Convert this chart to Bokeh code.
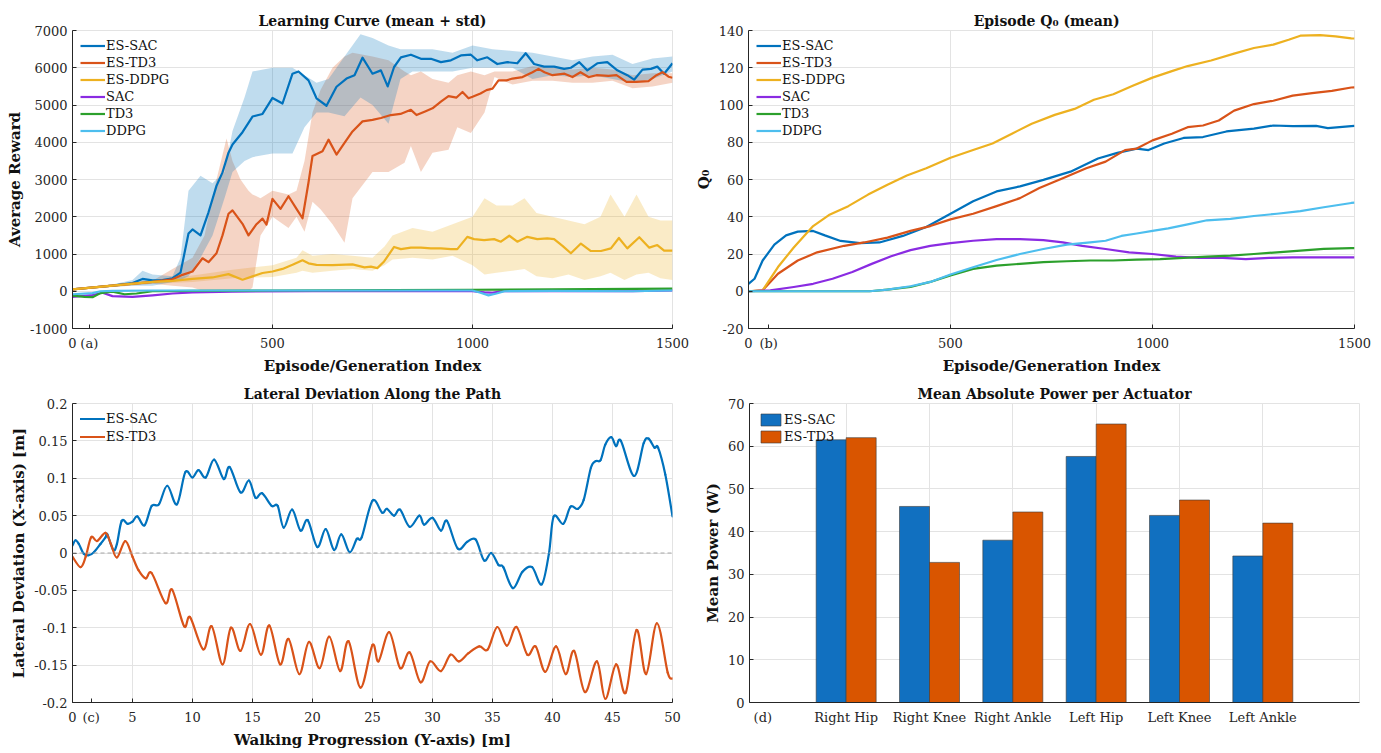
from bokeh.plotting import figure
from bokeh.layouts import column, row
from bokeh.models import Legend, LegendItem, FixedTicker, Span, Range1d
from bokeh.embed import file_html
from bokeh.resources import INLINE

FONT = "DejaVu Serif"
C_SAC_ES = "#0072BD"
C_TD3_ES = "#D95319"
C_DDPG_ES = "#EDB120"
C_SAC = "#8A2BE2"
C_TD3 = "#2CA02C"
C_DDPG = "#4DBEEE"

# ---------------- (a) Learning curve ----------------
es_sac_ep = [0, 50, 100, 150, 175, 200, 225, 250, 270, 290, 300, 320, 340, 360, 375, 390, 400, 425, 450, 475, 500, 525, 550, 565, 590, 610, 635, 660, 685, 705, 725, 750, 771, 788, 804, 821, 846, 871, 896, 921, 946, 971, 996, 1012, 1037, 1062, 1087, 1112, 1133, 1154, 1179, 1204, 1229, 1246, 1267, 1287, 1312, 1337, 1362, 1387, 1404, 1425, 1446, 1462, 1479, 1500]
es_sac_mean = [50, 100, 150, 220, 330, 290, 300, 350, 500, 1550, 1660, 1500, 2120, 2830, 3190, 3720, 3940, 4270, 4690, 4760, 5190, 5040, 5840, 5900, 5660, 5180, 4980, 5490, 5710, 5800, 6270, 5840, 5930, 5500, 6020, 6280, 6350, 6240, 6240, 6150, 6200, 6330, 6350, 6200, 6280, 6100, 6150, 6120, 6390, 6100, 6030, 6030, 5970, 6000, 6150, 5930, 6120, 6150, 5930, 5800, 5680, 5950, 5970, 6030, 5840, 6120]
es_sac_band_ep = [0, 100, 150, 175, 200, 250, 270, 290, 320, 350, 380, 400, 430, 450, 500, 550, 580, 610, 640, 680, 720, 750, 790, 820, 850, 900, 950, 1000, 1050, 1100, 1150, 1200, 1250, 1300, 1350, 1400, 1450, 1500]
es_sac_upper = [80, 180, 300, 550, 450, 400, 900, 2700, 3100, 2900, 3200, 4300, 5200, 5900, 6000, 6000, 5800, 5600, 5700, 6300, 6900, 6800, 6600, 6500, 6500, 6500, 6400, 6600, 6500, 6450, 6400, 6300, 6200, 6300, 6350, 6100, 6250, 6300]
es_sac_lower = [20, 120, 150, 150, 150, 250, 300, 400, 900, 1500, 2500, 3200, 3500, 3600, 3700, 3700, 4400, 4800, 4800, 4700, 5200, 5000, 4500, 5700, 5900, 5900, 5900, 6000, 6000, 6000, 5700, 5800, 5750, 5800, 5700, 5600, 5700, 5900]

es_td3_ep = [0, 100, 200, 250, 275, 300, 325, 340, 360, 375, 390, 400, 425, 440, 460, 475, 485, 500, 520, 540, 560, 575, 590, 600, 625, 640, 660, 680, 700, 725, 750, 771, 796, 820, 846, 860, 880, 900, 921, 940, 960, 975, 990, 1000, 1020, 1035, 1050, 1065, 1085, 1100, 1125, 1150, 1165, 1180, 1200, 1230, 1250, 1270, 1290, 1310, 1340, 1360, 1385, 1410, 1440, 1460, 1475, 1490, 1500]
es_td3_mean = [50, 150, 250, 320, 440, 530, 885, 780, 1020, 1500, 2080, 2170, 1810, 1500, 1800, 1950, 1790, 2480, 2210, 2550, 2210, 1960, 2920, 3630, 3760, 4070, 3670, 3980, 4290, 4560, 4600, 4650, 4730, 4760, 4870, 4730, 4820, 4910, 5090, 5240, 5200, 5350, 5180, 5220, 5310, 5400, 5440, 5660, 5660, 5710, 5750, 5880, 5970, 5880, 5800, 5840, 5750, 5880, 5750, 5800, 5780, 5800, 5620, 5620, 5640, 5800, 5880, 5760, 5730]
es_td3_band_ep = [0, 100, 200, 250, 300, 330, 360, 385, 400, 420, 440, 450, 470, 500, 540, 560, 580, 600, 620, 650, 680, 700, 750, 790, 830, 846, 871, 900, 940, 962, 996, 1030, 1055, 1100, 1150, 1200, 1250, 1300, 1350, 1400, 1450, 1500]
es_td3_upper = [80, 180, 280, 600, 900, 1500, 3000, 4100, 3500, 3000, 2700, 2600, 2500, 2700, 2600, 2700, 3500, 4800, 5400, 6000, 6300, 6400, 6300, 6200, 5900, 5800, 5900, 5700, 5600, 5800, 5900, 5800, 5900, 5900, 6050, 6000, 5950, 6000, 5950, 5800, 5850, 5850]
es_td3_lower = [20, 120, 200, 150, 100, 0, -50, 0, 0, 0, 0, 100, 1500, 2000, 1700, 2000, 1600, 2400, 2200, 1800, 1300, 2500, 3200, 3200, 3450, 3900, 3200, 3720, 3800, 4400, 4250, 4800, 5750, 5550, 5650, 5650, 5600, 5600, 5650, 5450, 5500, 5600]

es_ddpg_ep = [0, 100, 200, 250, 300, 350, 390, 425, 450, 475, 500, 525, 550, 575, 590, 610, 650, 700, 730, 746, 762, 779, 804, 821, 846, 871, 896, 921, 946, 962, 987, 1004, 1029, 1054, 1071, 1092, 1112, 1137, 1162, 1187, 1204, 1225, 1246, 1271, 1296, 1321, 1346, 1366, 1387, 1417, 1442, 1462, 1479, 1500]
es_ddpg_mean = [50, 150, 250, 280, 330, 370, 460, 310, 400, 490, 530, 600, 710, 830, 750, 710, 700, 720, 640, 660, 620, 800, 1190, 1130, 1170, 1170, 1150, 1150, 1130, 1130, 1460, 1400, 1370, 1400, 1330, 1490, 1330, 1460, 1400, 1420, 1400, 1220, 1020, 1280, 1080, 1080, 1150, 1430, 1150, 1450, 1170, 1240, 1090, 1090]
es_ddpg_band_ep = [0, 200, 300, 400, 500, 560, 575, 600, 650, 700, 750, 780, 800, 850, 900, 950, 1000, 1030, 1060, 1100, 1130, 1160, 1200, 1240, 1280, 1320, 1345, 1380, 1410, 1440, 1470, 1500]
es_ddpg_upper = [80, 300, 420, 580, 700, 900, 1100, 950, 1000, 950, 900, 1200, 1500, 1700, 1600, 1800, 2000, 2500, 2300, 2300, 2500, 2100, 2000, 1900, 1800, 2000, 2600, 2000, 2600, 2000, 1900, 1900]
es_ddpg_lower = [20, 200, 250, 350, 380, 500, 550, 500, 550, 600, 550, 700, 850, 900, 850, 950, 700, 450, 500, 550, 600, 400, 350, 450, 300, 400, 500, 300, 450, 500, 350, 300]

sac_ep = [0, 50, 75, 100, 150, 200, 250, 300, 400, 600, 800, 1000, 1030, 1050, 1070, 1200, 1400, 1500]
sac_mean = [-150, -100, -40, -130, -150, -110, -60, -30, -10, 0, 0, 0, -30, -40, 0, 0, 0, 20]
td3_ep = [0, 30, 50, 70, 100, 130, 160, 200, 300, 500, 800, 1000, 1200, 1500]
td3_mean = [-120, -150, -160, -50, -10, -80, -60, 0, 10, 20, 30, 40, 50, 70]
ddpg_ep = [0, 50, 70, 100, 200, 500, 800, 1000, 1020, 1040, 1060, 1080, 1200, 1400, 1500]
ddpg_mean = [-80, -50, 0, 10, 20, 20, 20, 20, -40, -110, -60, 0, 10, 0, 20]

xticks_ab = [0, 500, 1000, 1500]
yticks_a = [-1000, 0, 1000, 2000, 3000, 4000, 5000, 6000, 7000]
ylabels_a = ["-1000", "0", "1000", "2000", "3000", "4000", "5000", "6000", "7000"]

# ---------------- (b) Episode Q0 ----------------
es_sac_q_ep = [0, 15, 35, 64, 93, 122, 160, 189, 228, 276, 324, 382, 440, 500, 556, 614, 672, 730, 797, 865, 913, 961, 990, 1029, 1077, 1125, 1183, 1251, 1299, 1347, 1405, 1434, 1492, 1500]
es_sac_q = [4, 6.7, 16.5, 25, 30, 32, 32.4, 30, 27, 25.8, 26.2, 29.7, 34.5, 41.6, 48.3, 53.6, 56.3, 59.8, 64.2, 71.3, 74.3, 76.6, 75.8, 79.3, 82.3, 82.8, 85.8, 87.3, 89, 88.7, 88.8, 87.6, 88.7, 88.8]
es_td3_q_ep = [0, 35, 73, 122, 170, 237, 286, 344, 401, 450, 500, 556, 614, 672, 720, 778, 836, 884, 932, 961, 1000, 1048, 1087, 1125, 1164, 1202, 1251, 1299, 1347, 1395, 1444, 1492, 1500]
es_td3_q = [0, 0.5, 9.4, 16.5, 20.9, 24.4, 26.2, 28.8, 32.4, 35, 38.6, 41.6, 45.7, 50, 55.4, 60.7, 66, 69.6, 75.8, 76.6, 81, 84.6, 88.1, 89, 91.7, 97, 100.5, 102.3, 105, 106.4, 107.6, 109.4, 109.5]
es_ddpg_q_ep = [0, 35, 73, 112, 160, 199, 247, 296, 344, 392, 440, 500, 556, 604, 652, 701, 758, 807, 855, 903, 951, 1000, 1048, 1087, 1145, 1202, 1251, 1299, 1337, 1366, 1415, 1453, 1492, 1500]
es_ddpg_q = [0, 0.5, 13, 23.5, 35, 40.9, 45.7, 51.9, 57.2, 62.1, 66, 71.7, 75.8, 79.3, 84.6, 89.9, 94.7, 97.9, 102.8, 105.8, 110.3, 114.7, 118.2, 120.9, 123.9, 127.6, 130.6, 132.4, 135, 137.2, 137.5, 136.8, 135.8, 135.7]
sac_q_ep = [0, 54, 112, 160, 208, 257, 305, 353, 401, 450, 500, 556, 614, 672, 730, 778, 826, 884, 942, 1000, 1058, 1115, 1174, 1231, 1289, 1347, 1405, 1500]
sac_q = [0, 0.5, 2.3, 4, 6.7, 10.3, 14.7, 18.8, 22.1, 24.4, 25.8, 27.1, 28, 28, 27.4, 26.2, 24.4, 22.7, 20.9, 20, 18.6, 17.9, 17.9, 17.3, 17.9, 18.2, 18.2, 18.2]
td3_q_ep = [0, 300, 344, 401, 450, 500, 556, 614, 672, 730, 788, 846, 903, 961, 1019, 1077, 1135, 1193, 1251, 1308, 1366, 1424, 1492, 1500]
td3_q = [0, 0, 0.9, 2.3, 5, 8.5, 12, 13.8, 14.7, 15.6, 16.1, 16.5, 16.5, 17, 17.3, 17.9, 18.6, 19.1, 20, 20.9, 21.8, 22.7, 23.2, 23.2]
ddpg_q_ep = [0, 300, 344, 401, 450, 500, 556, 614, 672, 730, 788, 846, 884, 923, 961, 1000, 1039, 1087, 1135, 1193, 1251, 1308, 1366, 1424, 1492, 1500]
ddpg_q = [0, 0, 0.9, 2.7, 5, 9, 12.9, 16.8, 20, 22.7, 25, 26.2, 27.1, 29.7, 31, 32.4, 33.8, 35.9, 38.1, 38.9, 40.4, 41.6, 43, 45.1, 47.4, 47.6]
yticks_b = [-20, 0, 20, 40, 60, 80, 100, 120, 140]
ylabels_b = ["-20", "0", "20", "40", "60", "80", "100", "120", "140"]

# ---------------- (c) Lateral deviation ----------------
sac_path_y = [0, 0.25, 0.53, 0.94, 1.36, 1.78, 2.33, 2.75, 2.9, 3.4, 3.7, 4.1, 4.6, 5, 5.4, 6.0, 6.6, 7.2, 7.9, 8.7, 9.4, 10, 10.5, 11.1, 11.8, 12.6, 13.1, 14, 14.7, 15.25, 15.8, 16.6, 17.1, 17.6, 18.3, 19, 19.6, 20.4, 21.1, 21.8, 22.4, 23.1, 23.7, 24.1, 25, 25.8, 26.2, 26.8, 27.3, 28.1, 28.9, 29.3, 30, 30.7, 31.2, 32.1, 32.9, 33.6, 34.3, 34.9, 35.5, 35.9, 36.7, 37.5, 38.3, 39.1, 39.7, 40.1, 40.9, 41.5, 42.1, 42.6, 43.2, 43.6, 44.0, 44.4, 44.9, 45.3, 45.7, 46.8, 47.6, 48.0, 48.5, 48.8, 49.4, 50]
sac_dev = [0.010, 0.017, 0.012, -0.001, -0.003, 0.001, 0.012, 0.021, 0.025, 0.004, 0.012, 0.043, 0.039, 0.042, 0.049, 0.037, 0.063, 0.065, 0.090, 0.065, 0.108, 0.101, 0.111, 0.101, 0.125, 0.099, 0.115, 0.081, 0.097, 0.074, 0.080, 0.063, 0.063, 0.034, 0.058, 0.030, 0.044, 0.008, 0.032, 0.004, 0.025, 0.001, 0.019, 0.021, 0.070, 0.054, 0.059, 0.050, 0.058, 0.035, 0.050, 0.038, 0.047, 0.030, 0.043, 0.006, 0.015, 0.018, -0.010, 0.000, -0.016, -0.019, -0.047, -0.025, -0.019, -0.042, -0.001, 0.049, 0.039, 0.062, 0.059, 0.071, 0.114, 0.123, 0.124, 0.145, 0.155, 0.143, 0.150, 0.103, 0.147, 0.153, 0.141, 0.141, 0.105, 0.049]
td3_path_y = [0, 0.67, 1.1, 1.55, 2.05, 2.75, 3.2, 3.7, 4.4, 5, 5.5, 6.1, 6.6, 7.75, 8.3, 9.3, 9.8, 10.9, 11.6, 12.5, 13.2, 14.0, 14.8, 15.7, 16.4, 17.3, 18.0, 18.9, 19.7, 20.6, 21.4, 22.3, 23.0, 24.0, 25.0, 25.5, 26.4, 27.3, 28.1, 29, 29.8, 30.7, 31.5, 32.2, 33.0, 33.9, 34.6, 35.4, 36.2, 37.0, 37.9, 38.6, 39.4, 40.3, 41.1, 41.8, 42.7, 43.7, 44.4, 45.3, 46.1, 47.0, 47.8, 48.7, 49.6, 50]
td3_dev = [-0.005, -0.019, -0.005, 0.021, 0.016, 0.027, 0.012, -0.006, 0.016, -0.005, -0.023, -0.034, -0.027, -0.067, -0.049, -0.098, -0.086, -0.129, -0.098, -0.149, -0.100, -0.131, -0.095, -0.136, -0.097, -0.149, -0.115, -0.162, -0.119, -0.154, -0.112, -0.158, -0.118, -0.180, -0.123, -0.145, -0.106, -0.154, -0.133, -0.173, -0.145, -0.158, -0.136, -0.145, -0.134, -0.125, -0.129, -0.099, -0.124, -0.099, -0.136, -0.125, -0.159, -0.125, -0.162, -0.131, -0.186, -0.145, -0.195, -0.149, -0.187, -0.103, -0.162, -0.094, -0.160, -0.168]
xticks_c = [0, 5, 10, 15, 20, 25, 30, 35, 40, 45, 50]
yticks_c = [-0.2, -0.15, -0.1, -0.05, 0, 0.05, 0.1, 0.15, 0.2]
ylabels_c = ["-0.2", "-0.15", "-0.1", "-0.05", "0", "0.05", "0.1", "0.15", "0.2"]

# ---------------- (d) Mean absolute power ----------------
actuators = ["Right Hip", "Right Knee", "Right Ankle", "Left Hip", "Left Knee", "Left Ankle"]
power_es_sac = [61.5, 45.9, 38.0, 57.6, 43.8, 34.3]
power_es_td3 = [62.0, 32.8, 44.6, 65.2, 47.4, 42.0]

GRID = "#E3E3E3"
AX = "#262626"


def make_fig(title, w, h, left, right, top, bottom):
    p = figure(width=w, height=h, output_backend="svg", toolbar_location=None,
               min_border_left=left, min_border_right=right,
               min_border_top=top, min_border_bottom=bottom,
               background_fill_color="white", border_fill_color="white")
    p.title.text = title
    p.title.align = "center"
    p.title.text_font = FONT
    p.title.text_font_size = "14px"
    p.title.text_font_style = "bold"
    p.title.text_color = "#111111"
    p.title.standoff = 3
    p.outline_line_color = GRID
    for ax in (p.xaxis[0], p.yaxis[0]):
        ax.axis_line_color = AX
        ax.major_tick_in = 4
        ax.major_tick_out = 0
        ax.major_tick_line_color = AX
        ax.minor_tick_line_color = None
        ax.major_label_text_font = FONT
        ax.major_label_text_font_size = "13px"
        ax.major_label_text_color = AX
        ax.axis_label_text_font = FONT
        ax.axis_label_text_font_size = "15px"
        ax.axis_label_text_font_style = "bold"
        ax.axis_label_text_color = "#111111"
        ax.axis_label_standoff = 3
    p.xaxis.major_label_standoff = 7
    p.yaxis.major_label_standoff = 5
    p.xgrid.grid_line_color = GRID
    p.ygrid.grid_line_color = GRID
    return p


def set_x_ticks(p, ticks, labels, tag, tag_pos):
    # axis ticks plus the panel tag, e.g. "(a)", placed just right of the first tick
    all_ticks = list(ticks) + [tag_pos]
    p.xaxis.ticker = FixedTicker(ticks=all_ticks)
    ov = {t: l for t, l in zip(ticks, labels)}
    ov[tag_pos] = tag
    p.xaxis.major_label_overrides = ov
    p.xgrid.ticker = FixedTicker(ticks=list(ticks))


def make_legend(p, items, glyph_h=15, spacing=2):
    lg = Legend(items=items, location="top_left")
    lg.label_text_font = FONT
    lg.label_text_font_size = "13px"
    lg.label_text_color = "#111111"
    lg.glyph_width = 25
    lg.glyph_height = glyph_h
    lg.label_height = glyph_h
    lg.label_standoff = 1
    lg.spacing = spacing
    lg.padding = 0
    lg.margin = 8
    lg.border_line_alpha = 0
    lg.background_fill_alpha = 0
    p.add_layout(lg)


def smooth_curve(p, xs, ys, color):
    # draw a smooth curve through the read points (Catmull-Rom -> cubic Bezier segments)
    n = len(xs)
    x0, y0, x1, y1, cx0, cy0, cx1, cy1 = [], [], [], [], [], [], [], []
    for i in range(n - 1):
        im1 = max(i - 1, 0)
        ip2 = min(i + 2, n - 1)
        x0.append(xs[i]); y0.append(ys[i])
        x1.append(xs[i + 1]); y1.append(ys[i + 1])
        cx0.append(xs[i] + (xs[i + 1] - xs[im1]) / 6.0)
        cy0.append(ys[i] + (ys[i + 1] - ys[im1]) / 6.0)
        cx1.append(xs[i + 1] - (xs[ip2] - xs[i]) / 6.0)
        cy1.append(ys[i + 1] - (ys[ip2] - ys[i]) / 6.0)
    return p.bezier(x0=x0, y0=y0, x1=x1, y1=y1, cx0=cx0, cy0=cy0, cx1=cx1, cy1=cy1,
                    line_color=color, line_width=2.2, line_cap="round")


# ---- (a)
pa = make_fig("Learning Curve (mean + std)", 690, 377, 72, 18, 30, 47)
pa.x_range = Range1d(0, 1500)
pa.y_range = Range1d(-1000, 7000)
set_x_ticks(pa, xticks_ab, [str(t) for t in xticks_ab], "(a)", 42)
pa.yaxis.ticker = FixedTicker(ticks=yticks_a)
pa.yaxis.major_label_overrides = {t: s for t, s in zip(yticks_a, ylabels_a)}
pa.xaxis.axis_label = "Episode/Generation Index"
pa.yaxis.axis_label = "Average Reward"
pa.varea(x=es_ddpg_band_ep, y1=es_ddpg_lower, y2=es_ddpg_upper, fill_color=C_DDPG_ES, fill_alpha=0.25)
pa.varea(x=es_td3_band_ep, y1=es_td3_lower, y2=es_td3_upper, fill_color=C_TD3_ES, fill_alpha=0.25)
pa.varea(x=es_sac_band_ep, y1=es_sac_lower, y2=es_sac_upper, fill_color=C_SAC_ES, fill_alpha=0.25)
ra = []
for xs, ys, c in [(es_sac_ep, es_sac_mean, C_SAC_ES), (es_td3_ep, es_td3_mean, C_TD3_ES),
                  (es_ddpg_ep, es_ddpg_mean, C_DDPG_ES), (sac_ep, sac_mean, C_SAC),
                  (td3_ep, td3_mean, C_TD3), (ddpg_ep, ddpg_mean, C_DDPG)]:
    ra.append(pa.line(xs, ys, line_color=c, line_width=2.2, line_join="round"))
names = ["ES-SAC", "ES-TD3", "ES-DDPG", "SAC", "TD3", "DDPG"]
make_legend(pa, [LegendItem(label=n, renderers=[r]) for n, r in zip(names, ra)])

# ---- (b)
pb = make_fig("Episode  Q\u2080  (mean)", 688, 377, 58, 24, 30, 47)
pb.x_range = Range1d(0, 1500)
pb.y_range = Range1d(-20, 140)
set_x_ticks(pb, xticks_ab, [str(t) for t in xticks_ab], "(b)", 50)
pb.yaxis.ticker = FixedTicker(ticks=yticks_b)
pb.yaxis.major_label_overrides = {t: s for t, s in zip(yticks_b, ylabels_b)}
pb.xaxis.axis_label = "Episode/Generation Index"
pb.yaxis.axis_label = "Q\u2080"
rb = []
for xs, ys, c in [(es_sac_q_ep, es_sac_q, C_SAC_ES), (es_td3_q_ep, es_td3_q, C_TD3_ES),
                  (es_ddpg_q_ep, es_ddpg_q, C_DDPG_ES), (sac_q_ep, sac_q, C_SAC),
                  (td3_q_ep, td3_q, C_TD3), (ddpg_q_ep, ddpg_q, C_DDPG)]:
    rb.append(pb.line(xs, ys, line_color=c, line_width=2.2, line_join="round"))
make_legend(pb, [LegendItem(label=n, renderers=[r]) for n, r in zip(names, rb)])

# ---- (c)
pc = make_fig("Lateral Deviation Along the Path", 690, 374, 72, 18, 26, 47)
pc.x_range = Range1d(0, 50)
pc.y_range = Range1d(-0.2, 0.2)
set_x_ticks(pc, xticks_c, [str(t) for t in xticks_c], "(c)", 1.55)
pc.yaxis.ticker = FixedTicker(ticks=yticks_c)
pc.yaxis.major_label_overrides = {t: s for t, s in zip(yticks_c, ylabels_c)}
pc.xaxis.axis_label = "Walking Progression (Y-axis) [m]"
pc.yaxis.axis_label = "Lateral Deviation (X-axis) [m]"
pc.add_layout(Span(location=0, dimension="width", line_color="#A8A8A8", line_dash="4 3", line_width=1))
rc1 = smooth_curve(pc, sac_path_y, sac_dev, C_SAC_ES)
rc2 = smooth_curve(pc, td3_path_y, td3_dev, C_TD3_ES)
make_legend(pc, [LegendItem(label="ES-SAC", renderers=[rc1], index=0),
                 LegendItem(label="ES-TD3", renderers=[rc2], index=0)], spacing=3)

# ---- (d)
pd_ = make_fig("Mean Absolute Power per Actuator", 688, 374, 59, 19, 26, 47)
pd_.x_range = Range1d(-0.16, 7.16)
pd_.y_range = Range1d(0, 70)
xpos = list(range(1, len(actuators) + 1))
set_x_ticks(pd_, xpos, actuators, "(d)", 0.0)
pd_.xaxis.major_tick_line_color = None
pd_.yaxis.ticker = FixedTicker(ticks=list(range(0, 71, 10)))
pd_.yaxis.axis_label = "Mean Power (W)"
rd1 = pd_.vbar(x=[x - 0.18 for x in xpos], top=power_es_sac, width=0.36, fill_color="#1170C0",
               line_color="#3A3A3A", line_width=0.6)
rd2 = pd_.vbar(x=[x + 0.18 for x in xpos], top=power_es_td3, width=0.36, fill_color="#D95500",
               line_color="#3A3A3A", line_width=0.6)
make_legend(pd_, [LegendItem(label="ES-SAC", renderers=[rd1]), LegendItem(label="ES-TD3", renderers=[rd2])], glyph_h=15, spacing=2)
pd_.legend[0].margin = 9

layout = column(row(pa, pb), row(pc, pd_))
open("out.html", "w").write(file_html(layout, INLINE))
